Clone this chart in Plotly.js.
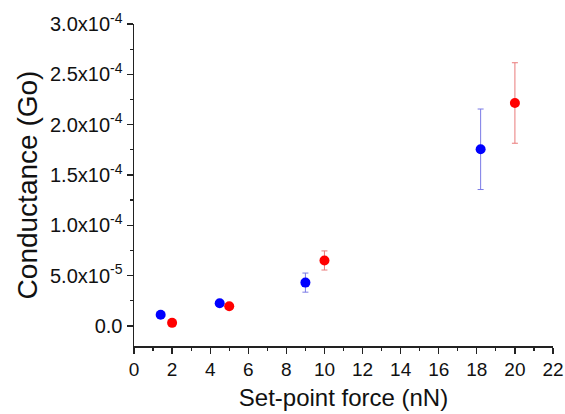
<!DOCTYPE html>
<html><head><meta charset="utf-8">
<script src="https://cdn.plot.ly/plotly-3.0.1.min.js"></script>
<style>html,body{margin:0;padding:0;background:#fff}#c{width:565px;height:414px}</style>
</head><body><div id="c"></div>
<script>
const blueForce = [1.4, 4.5, 9.0, 18.2];
const blueCond = [1.1e-5, 2.25e-5, 4.3e-5, 1.755e-4];
const blueErr = [1e-6, 1e-6, 9.5e-6, 4.0e-5];
const redForce = [2.0, 5.0, 10.0, 20.0];
const redCond = [3e-6, 1.95e-5, 6.5e-5, 2.215e-4];
const redErr = [1e-6, 1e-6, 9.5e-6, 4.0e-5];
const yTickVals = [0, 5e-5, 1e-4, 1.5e-4, 2e-4, 2.5e-4, 3e-4];
const yTickText = ['0.0', '5.0x10<sup>-5</sup>', '1.0x10<sup>-4</sup>', '1.5x10<sup>-4</sup>', '2.0x10<sup>-4</sup>', '2.5x10<sup>-4</sup>', '3.0x10<sup>-4</sup>'];
const xTickVals = [0, 2, 4, 6, 8, 10, 12, 14, 16, 18, 20, 22];

const font = 'Liberation Sans, Arial, sans-serif';
const traces = [
  {x: blueForce, y: blueCond, type: 'scatter', mode: 'markers',
   marker: {color: '#0000ff', size: 10},
   error_y: {type: 'data', array: blueErr, visible: true, color: '#7b7be6', thickness: 1, width: 3}},
  {x: redForce, y: redCond, type: 'scatter', mode: 'markers',
   marker: {color: '#ff0000', size: 10},
   error_y: {type: 'data', array: redErr, visible: true, color: '#ea7a7a', thickness: 1, width: 3}}
];
const layout = {
  width: 565, height: 414,
  margin: {l: 134, r: 12, t: 24, b: 68},
  paper_bgcolor: '#fff', plot_bgcolor: '#fff',
  showlegend: false,
  font: {family: font, color: '#000'},
  xaxis: {
    range: [0, 22], tickvals: xTickVals, ticktext: xTickVals.map(String),
    showgrid: false, zeroline: false, showline: true, linecolor: '#222', linewidth: 1.5,
    ticks: 'outside', ticklen: 6, tickwidth: 1.3, tickcolor: '#222',
    minor: {dtick: 1, tick0: 0, ticks: 'outside', ticklen: 3, tickwidth: 1.2, tickcolor: '#222', showgrid: false},
    tickfont: {size: 19, family: font, color: '#111'},
    title: {text: 'Set-point force (nN)', font: {size: 24, family: font, color: '#111'}, standoff: 10}
  },
  yaxis: {
    range: [-2e-5, 3e-4], tickvals: yTickVals, ticktext: yTickText,
    showgrid: false, zeroline: false, showline: true, linecolor: '#222', linewidth: 1.5,
    ticks: 'outside', ticklen: 6, tickwidth: 1.3, tickcolor: '#222',
    minor: {dtick: 2.5e-5, tick0: 0, ticks: 'outside', ticklen: 3, tickwidth: 1.2, tickcolor: '#222', showgrid: false},
    tickfont: {size: 20, family: font, color: '#111'},
    title: {text: 'Conductance (Go)', font: {size: 28, family: font, color: '#111'}, standoff: 4}
  }
};
Plotly.newPlot('c', traces, layout, {displayModeBar: false, staticPlot: true});
</script></body></html>
